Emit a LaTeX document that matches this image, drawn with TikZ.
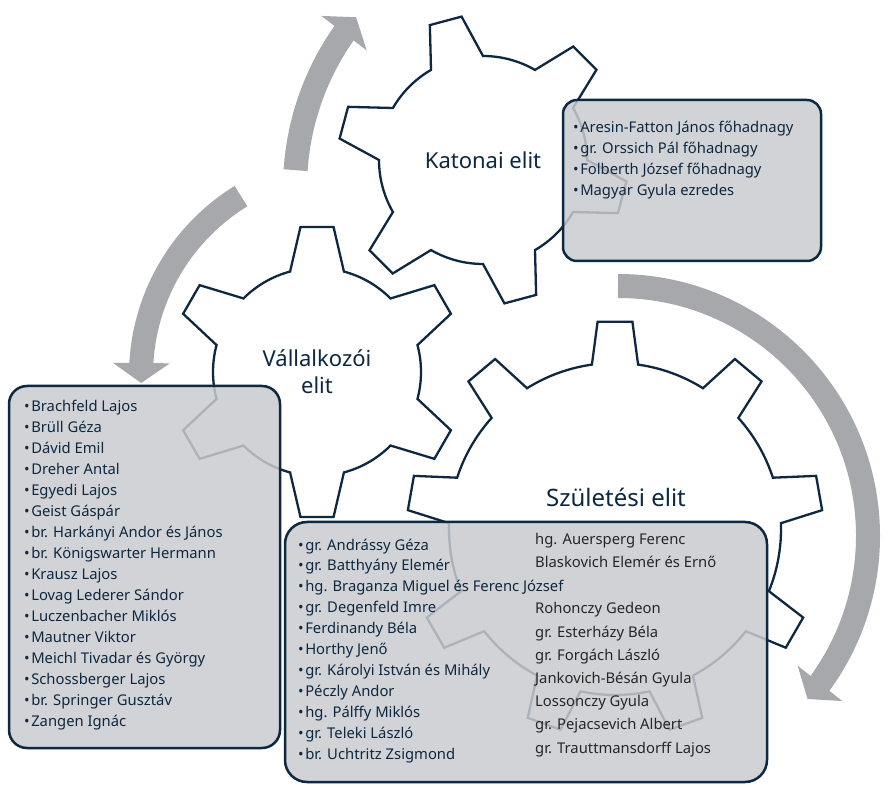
\documentclass[tikz,border=0pt]{standalone}
\usepackage{fontspec}
\setmainfont{Noto Sans}
\usetikzlibrary{calc,arrows.meta,bending}

\definecolor{navy}{RGB}{14,40,65}
\definecolor{boxgray}{RGB}{201,203,207}
\definecolor{arrowgray}{RGB}{166,168,172}
\definecolor{darktext}{RGB}{38,38,38}

\newcommand{\itm}{\textbullet\hspace{1.5pt}}

\begin{document}
\begin{tikzpicture}[x=1pt,y=1pt,
  gearline/.style={draw=navy,line width=2.3pt,fill=white,line join=miter},
  cycarrow/.style={draw=arrowgray,line width=24pt,-{Triangle[width=56pt,length=20pt]}},
  listbox/.style={draw=navy,line width=2.5pt,fill=boxgray,fill opacity=0.85,inner sep=0pt},
  gearlab/.style={text=navy,font=\fontsize{22}{27}\selectfont,align=center},
  names/.style={text=navy,font=\fontsize{14.8}{21}\selectfont,align=left,anchor=base west,inner sep=0pt}]
\useasboundingbox (0,0) rectangle (888,787);

% gear centres
\coordinate (gK) at (483,627);
\coordinate (gV) at (317,415);
\coordinate (gS) at (615,258);

% cycle arrows
\draw[cycarrow] ($(564,599)+(176.2:269)$) arc[start angle=176.2, end angle=140.6, radius=269];
\draw[cycarrow] ($(351,412)+(121.6:210)$) arc[start angle=121.6, end angle=182.2, radius=210];
\draw[cycarrow] ($(618,251)+(90:250)$) arc[start angle=90, end angle=-40.7, radius=250];

% gears
\path[gearline] ($(gS)+(2:166)$) \foreach \a in {10,50,...,330} {
  -- ($(gS)+(\a-4.8:208)$) -- ($(gS)+(\a+4.8:208)$) -- ($(gS)+(\a+8:166)$)
  arc[start angle=\a+8, delta angle=24, radius=166] } -- cycle;
\path[gearline] ($(gV)+(15:104)$) \foreach \a in {30,90,...,330} {
  -- ($(gV)+(\a-6.5:146)$) -- ($(gV)+(\a+6.5:146)$) -- ($(gV)+(\a+15:104)$)
  arc[start angle=\a+15, delta angle=30, radius=104] } -- cycle;
\path[gearline] ($(gK)+(30:104)$) \foreach \a in {45,105,...,345} {
  -- ($(gK)+(\a-6.5:145)$) -- ($(gK)+(\a+6.5:145)$) -- ($(gK)+(\a+15:104)$)
  arc[start angle=\a+15, delta angle=30, radius=104] } -- cycle;

\node[gearlab] (labK) at (gK) {Katonai elit};
\node[gearlab] (labV) at (gV) {Vállalkozói\\elit};
\node[gearlab,font=\fontsize{24}{28}\selectfont] (labS) at (616,290) {Születési elit};

% list boxes
\node[listbox,rounded corners=14pt,minimum width=258pt,minimum height=161pt] (boxK) at (692,606.5) {};
\node[listbox,rounded corners=18pt,minimum width=271pt,minimum height=362pt] (boxV) at (144.5,220) {};
\node[listbox,rounded corners=22pt,minimum width=482pt,minimum height=260pt] (boxS) at (526,135) {};

% lists (anchored at the baseline of their last line)
\node[names] (listK) at (573,591) {\itm Aresin-Fatton János főhadnagy\\
  \itm gr. Orssich Pál főhadnagy\\
  \itm Folberth József főhadnagy\\
  \itm Magyar Gyula ezredes};

\node[names] (listV) at (24,61) {\itm Brachfeld Lajos\\
  \itm Brüll Géza\\
  \itm Dávid Emil\\
  \itm Dreher Antal\\
  \itm Egyedi Lajos\\
  \itm Geist Gáspár\\
  \itm br. Harkányi Andor és János\\
  \itm br. Königswarter Hermann\\
  \itm Krausz Lajos\\
  \itm Lovag Lederer Sándor\\
  \itm Luczenbacher Miklós\\
  \itm Mautner Viktor\\
  \itm Meichl Tivadar és György\\
  \itm Schossberger Lajos\\
  \itm br. Springer Gusztáv\\
  \itm Zangen Ignác};

\node[names,font=\fontsize{14.8}{20.9}\selectfont] (listS) at (298,28) {\itm gr. Andrássy Géza\\
  \itm gr. Batthyány Elemér\\
  \itm hg. Braganza Miguel és Ferenc József\\
  \itm gr. Degenfeld Imre\\
  \itm Ferdinandy Béla\\
  \itm Horthy Jenő\\
  \itm gr. Károlyi István és Mihály\\
  \itm Péczly Andor\\
  \itm hg. Pálffy Miklós\\
  \itm gr. Teleki László\\
  \itm br. Uchtritz Zsigmond};

\node[names,text=darktext,font=\fontsize{14.8}{23.2}\selectfont] (listS2) at (535,34) {hg. Auersperg Ferenc\\
  Blaskovich Elemér és Ernő\\[23.2pt]
  Rohonczy Gedeon\\
  gr. Esterházy Béla\\
  gr. Forgách László\\
  Jankovich-Bésán Gyula\\
  Lossonczy Gyula\\
  gr. Pejacsevich Albert\\
  gr. Trauttmansdorff Lajos};
\end{tikzpicture}
\end{document}
